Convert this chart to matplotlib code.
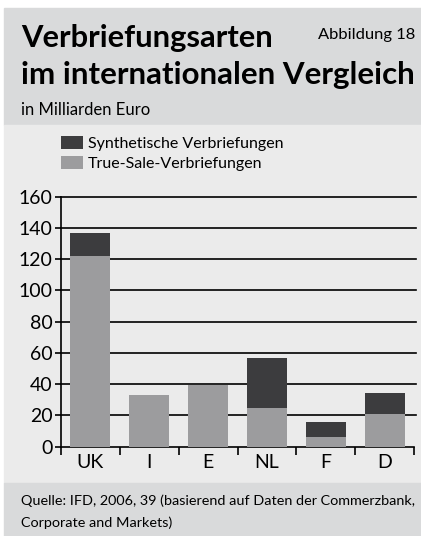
import matplotlib.pyplot as plt
from matplotlib.patches import Rectangle

# Daten (Milliarden Euro)
laender = ["UK", "I", "E", "NL", "F", "D"]
true_sale = [122, 33, 39.5, 25, 6.5, 21]
synthetisch = [15, 0, 0, 32, 9, 13.5]
yticks = [0, 20, 40, 60, 80, 100, 120, 140, 160]

plt.rcParams['font.family'] = ['Lato', 'DejaVu Sans']

W, H = 421, 536
fig = plt.figure(figsize=(W / 100, H / 100), dpi=100)
fig.patch.set_facecolor("white")

def fx(px):
    return px / W

def fy(py):
    return 1 - py / H

# Hintergrundflaechen
hell = "#ebebeb"
dunkelgrau = "#d9dadb"
fig.patches.append(Rectangle((fx(4), fy(125)), fx(417), 117 / H,
                             transform=fig.transFigure, color=dunkelgrau, zorder=-10))
fig.patches.append(Rectangle((fx(4), fy(483)), fx(417), 358 / H,
                             transform=fig.transFigure, color=hell, zorder=-10))
fig.patches.append(Rectangle((fx(4), fy(536)), fx(417), 53 / H,
                             transform=fig.transFigure, color=dunkelgrau, zorder=-10))

# Titel
t1 = fig.text(fx(21), fy(47), "Verbriefungsarten", fontsize=24, fontweight="bold",
              ha="left", va="baseline")
t2 = fig.text(fx(21), fy(84), "im internationalen Vergleich", fontsize=24, fontweight="bold",
              ha="left", va="baseline")
t3 = fig.text(fx(415), fy(39), "Abbildung 18", fontsize=11, ha="right", va="baseline")
t4 = fig.text(fx(21), fy(115), "in Milliarden Euro", fontsize=12, ha="left", va="baseline")

# Achsen
ax = fig.add_axes([fx(61), fy(446.7), fx(414) - fx(61), (446.7 - 196.7) / H])
ax.set_facecolor("none")
x = range(len(laender))
c_true = "#9c9c9e"
c_syn = "#3c3c3e"
ax.bar(x, true_sale, width=0.68, color=c_true, zorder=3, label="True-Sale-Verbriefungen")
ax.bar(x, synthetisch, width=0.68, bottom=true_sale, color=c_syn, zorder=3,
       label="Synthetische Verbriefungen")

for v in yticks[1:]:
    ax.axhline(v, color="black", lw=1.2, zorder=1, xmax=1.006, clip_on=False)

ax.set_xlim(-0.5, 5.5)
ax.set_ylim(0, 160)
ax.set_yticks(yticks)
ax.set_xticks([i + 0.5 for i in range(-1, 6)], minor=True)
ax.set_xticks(list(x))
ax.set_xticklabels(laender)
ax.tick_params(axis="x", which="major", length=0, labelsize=14, pad=5)
ax.tick_params(axis="x", which="minor", length=6, width=1.2, direction="out")
ax.tick_params(axis="y", length=4, width=1.2, labelsize=14, pad=2)
for s in ["top", "right"]:
    ax.spines[s].set_visible(False)
for s in ["left", "bottom"]:
    ax.spines[s].set_linewidth(1.2)

# Legende
h, l = ax.get_legend_handles_labels()
fig.legend(h[::-1], l[::-1], loc="upper left", bbox_to_anchor=(fx(61), fy(136)),
           frameon=False, fontsize=11.5, handlelength=1.4, handleheight=0.9,
           handletextpad=0.3, labelspacing=0.3, borderpad=0, borderaxespad=0)

# Quelle
q1 = fig.text(fx(21), fy(505), "Quelle: IFD, 2006, 39 (basierend auf Daten der Commerzbank,",
              fontsize=9.5, ha="left", va="baseline")
q2 = fig.text(fx(21), fy(527), "Corporate and Markets)", fontsize=9.5, ha="left", va="baseline")

# Schriftgroessen an die Zielbreite anpassen
r = fig.canvas.get_renderer()
for t, breite in [(t1, 251), (t2, 394), (t3, 97), (q1, 397)]:
    w = t.get_window_extent(r).width
    t.set_fontsize(t.get_fontsize() * breite / w)
q2.set_fontsize(q1.get_fontsize())

fig.savefig("out.png", dpi=100)
